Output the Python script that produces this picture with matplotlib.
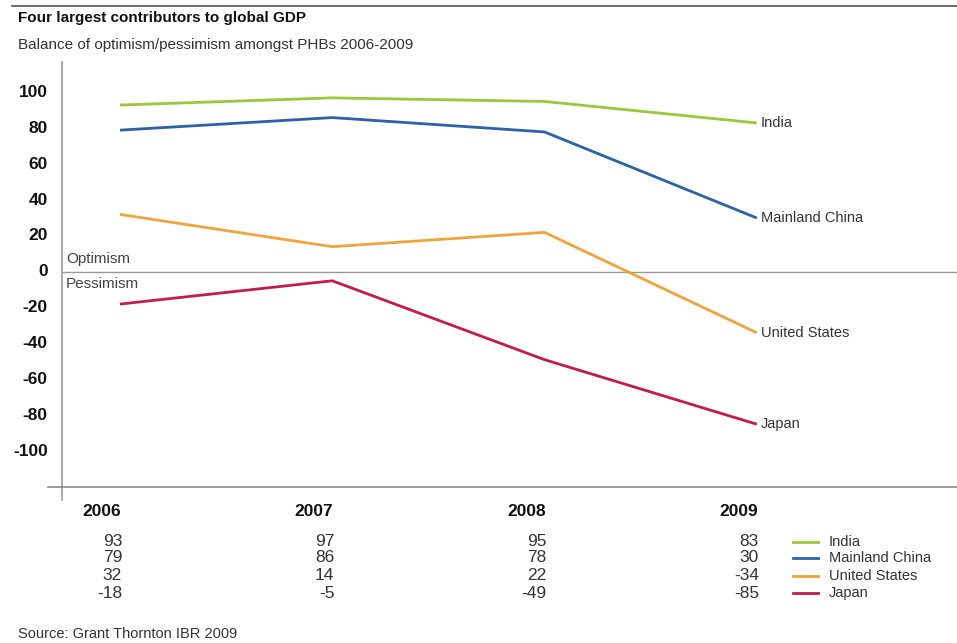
import matplotlib
matplotlib.use("Agg")
import matplotlib.pyplot as plt
from matplotlib import font_manager as fm

years = [2006, 2007, 2008, 2009]
series_names = ["India", "Mainland China", "United States", "Japan"]
india = [93, 97, 95, 83]
china = [79, 86, 78, 30]
usa = [32, 14, 22, -34]
japan = [-18, -5, -49, -85]
yticks = [100, 80, 60, 40, 20, 0, -20, -40, -60, -80, -100]
title = "Four largest contributors to global GDP"
subtitle = "Balance of optimism/pessimism amongst PHBs 2006-2009"
source = "Source: Grant Thornton IBR 2009"

colors = ["#9dc73a", "#2b62a8", "#f2a33a", "#c41a4e"]
values = [india, china, usa, japan]

avail = {f.name for f in fm.fontManager.ttflist}
fam = "Liberation Sans Narrow" if "Liberation Sans Narrow" in avail else "Liberation Sans"
plt.rcParams["font.family"] = [fam, "DejaVu Sans"]

W, H = 957, 643
fig = plt.figure(figsize=(W / 100, H / 100), dpi=100)
fig.patch.set_facecolor("white")

def fx(px):
    return px / W

def fy(py):
    return 1 - py / H

# axes: x from 62 to 957 px, y from 62 to 487 px
ax = fig.add_axes([fx(62), fy(487), fx(957) - fx(62), fy(62) - fy(487)])
ax.set_xlim(2005.727, 2009.943)
ax.set_ylim(-120, 117)
ax.set_facecolor("white")
for s in ax.spines.values():
    s.set_visible(False)
ax.set_xticks([])
ax.set_yticks([])

# zero line
ax.axhline(0, color="#999999", lw=1.0)

for name, vals, c in zip(series_names, values, colors):
    ax.plot(years, vals, color=c, lw=2.0, solid_capstyle="butt")
    ax.text(years[-1] + 0.02, vals[-1], name, ha="left", va="center",
            fontsize=10.5, color="#333333")

ax.text(2005.745, 3, "Optimism", ha="left", va="bottom", fontsize=11, color="#444444")
ax.text(2005.745, -3, "Pessimism", ha="left", va="top", fontsize=11, color="#444444")

# y tick labels
for v in yticks:
    ax.text(2005.66, v, str(v), ha="right", va="center", fontsize=12.5,
            fontweight="bold", color="#111111", transform=ax.transData, clip_on=False)

# frame lines in figure coords
fig.add_artist(plt.Line2D([fx(12), fx(957)], [fy(6), fy(6)], color="#555555", lw=1.2))
fig.add_artist(plt.Line2D([fx(62), fx(62)], [fy(62), fy(500)], color="#999999", lw=1.2))
fig.add_artist(plt.Line2D([fx(48), fx(957)], [fy(487), fy(487)], color="#888888", lw=1.2))

fig.text(fx(18), fy(18), title, ha="left", va="center", fontsize=11,
         fontweight="bold", color="#111111")
fig.text(fx(18), fy(45), subtitle, ha="left", va="center", fontsize=11, color="#333333")

# bottom table
xpix = {y: 120 + (y - 2006) * 212.3 for y in years}
row_y = [542, 558, 576, 593]
for i, y in enumerate(years):
    fig.text(fx(xpix[y] + 1), fy(512), str(y), ha="right", va="center", fontsize=12.5,
             fontweight="bold", color="#111111")
    for j, vals in enumerate(values):
        fig.text(fx(xpix[y] + 2), fy(row_y[j]), str(vals[i]), ha="right", va="center",
                 fontsize=12.5, color="#333333")

for j, (name, c) in enumerate(zip(series_names, colors)):
    fig.add_artist(plt.Line2D([fx(793), fx(818)], [fy(row_y[j]), fy(row_y[j])],
                              color=c, lw=2.0))
    fig.text(fx(829), fy(row_y[j]), name, ha="left", va="center", fontsize=10.5,
             color="#333333")

fig.text(fx(18), fy(634), source, ha="left", va="center", fontsize=10.5, color="#333333")

fig.savefig("out.png", dpi=100, facecolor="white")
